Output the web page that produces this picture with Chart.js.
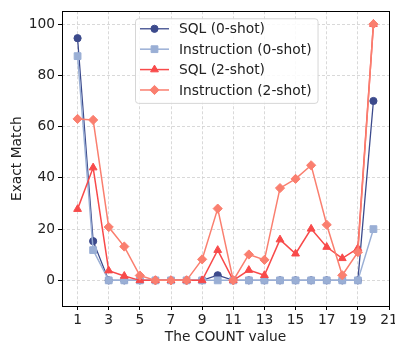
<!DOCTYPE html>
<html>
<head>
<meta charset="utf-8">
<script src="https://cdn.jsdelivr.net/npm/chart.js@4.4.1/dist/chart.umd.min.js"></script>
<style>
    html, body { margin: 0; padding: 0; background: #fff; }
</style>
</head>
<body>
<canvas id="countChart" width="395" height="347"></canvas>
<script>
// Werte
const countValues = [1, 2, 3, 4, 5, 6, 7, 8, 9, 10, 11, 12, 13, 14, 15, 16, 17, 18, 19, 20];
const sqlZeroShot = [94.5, 15.3, 0, 0, 0, 0, 0, 0, 0, 2, 0, 0, 0, 0, 0, 0, 0, 0, 0, 70];
const instructionZeroShot = [87.5, 11.8, 0, 0, 0, 0, 0, 0, 0, 0, 0, 0, 0, 0, 0, 0, 0, 0, 0, 20];
const sqlTwoShot = [27.8, 44, 3.8, 1.7, 0, 0, 0, 0, 0, 11.8, 0, 4, 2, 15.9, 10.4, 20.1, 13, 8.6, 12.5, 100];
const instructionTwoShot = [63, 62.6, 20.8, 13.2, 1.9, 0, 0, 0, 8.2, 28, 0, 10.1, 8, 36, 39.6, 44.9, 21.7, 2, 11, 100];
const seriesNames = ['SQL (0-shot)', 'Instruction (0-shot)', 'SQL (2-shot)', 'Instruction (2-shot)'];
const xTickLabels = [1, 3, 5, 7, 9, 11, 13, 15, 17, 19, 21];
const yTickLabels = [0, 20, 40, 60, 80, 100];

const fontFamily = '"DejaVu Sans", sans-serif';
const fontSize = 13.8;

function toPoints(values) {
    return values.map((v, i) => ({ x: countValues[i], y: v }));
}

function makeSeries(label, values, color, style, radius, width, order) {
    return {
        label: label,
        data: toPoints(values),
        borderColor: color,
        backgroundColor: color,
        borderWidth: width,
        pointStyle: style,
        pointRadius: radius,
        pointHoverRadius: radius,
        pointBorderWidth: 1,
        pointBorderColor: color,
        pointBackgroundColor: color,
        tension: 0,
        order: order
    };
}

// Rahmen (alle vier Achsen) und Legende im Plotbereich
const frameAndLegend = {
    id: 'frameAndLegend',
    afterDraw(chart) {
        const ctx = chart.ctx;
        const area = chart.chartArea;
        ctx.save();
        ctx.strokeStyle = '#000';
        ctx.lineWidth = 1;
        ctx.setLineDash([]);
        ctx.strokeRect(Math.round(area.left) + 0.5, Math.round(area.top) + 0.5,
            Math.round(area.right - area.left), Math.round(area.bottom - area.top));

        // Legende
        ctx.font = fontSize + 'px ' + fontFamily;
        const texts = chart.data.datasets.map(d => d.label);
        const maxText = Math.max(...texts.map(t => ctx.measureText(t).width));
        const x0 = area.left + 73;
        const y0 = area.top + 7;
        const rowH = 20.4;
        const w = 44 + maxText + 6;
        const h = rowH * texts.length + 3;
        ctx.fillStyle = 'rgba(255,255,255,0.85)';
        ctx.strokeStyle = '#d6d6d6';
        ctx.beginPath();
        ctx.roundRect(x0 + 0.5, y0 + 0.5, w, h, 3);
        ctx.fill();
        ctx.stroke();

        chart.data.datasets.forEach((ds, i) => {
            const cy = y0 + 10.5 + i * rowH;
            ctx.strokeStyle = ds.borderColor;
            ctx.lineWidth = ds.borderWidth;
            ctx.beginPath();
            ctx.moveTo(x0 + 5, cy);
            ctx.lineTo(x0 + 34, cy);
            ctx.stroke();
            ctx.fillStyle = ds.borderColor;
            ctx.strokeStyle = ds.borderColor;
            ctx.lineWidth = 1;
            Chart.helpers.drawPoint(ctx, { pointStyle: ds.pointStyle, radius: ds.pointRadius, borderWidth: 1 }, x0 + 19.5, cy);
            ctx.fillStyle = '#222';
            ctx.textAlign = 'left';
            ctx.textBaseline = 'middle';
            ctx.fillText(ds.label, x0 + 44, cy + 1);
        });
        ctx.restore();
    }
};

function gridStyle() {
    return {
        color: '#cfcfcf',
        lineWidth: 0.8,
        drawTicks: true,
        tickLength: 4,
        tickColor: '#000',
        tickWidth: 1
    };
}

const config = {
    type: 'line',
    data: {
        datasets: [
            makeSeries(seriesNames[0], sqlZeroShot, '#3c4a8c', 'circle', 3.6, 1.3, 4),
            makeSeries(seriesNames[1], instructionZeroShot, '#9aafd5', 'rect', 4.8, 1.5, 3),
            makeSeries(seriesNames[2], sqlTwoShot, '#f84a4a', 'triangle', 4.5, 1.5, 2),
            makeSeries(seriesNames[3], instructionTwoShot, '#fa7f6f', 'rectRot', 4.6, 1.5, 1)
        ]
    },
    options: {
        responsive: false,
        animation: false,
        devicePixelRatio: 1,
        layout: { padding: { top: 8, right: 6, left: 0, bottom: 0 } },
        plugins: {
            legend: { display: false },
            tooltip: { enabled: false }
        },
        scales: {
            x: {
                type: 'linear',
                min: 0,
                max: 21,
                afterBuildTicks: scale => { scale.ticks = xTickLabels.map(v => ({ value: v })); },
                afterFit: scale => { scale.height = 41; scale.paddingLeft = 0; scale.paddingRight = 0; },
                border: { display: false, dash: [3, 2] },
                grid: gridStyle(),
                ticks: {
                    color: '#222',
                    font: { family: fontFamily, size: fontSize },
                    padding: 2,
                    maxRotation: 0,
                    autoSkip: false
                },
                title: {
                    display: true,
                    text: 'The COUNT value',
                    color: '#222',
                    font: { family: fontFamily, size: fontSize },
                    padding: { top: 0, bottom: 1 }
                }
            },
            y: {
                type: 'linear',
                min: -10,
                max: 105,
                afterBuildTicks: scale => { scale.ticks = yTickLabels.map(v => ({ value: v })); },
                afterFit: scale => { scale.width = 62; },
                border: { display: false, dash: [3, 2] },
                grid: gridStyle(),
                ticks: {
                    color: '#222',
                    font: { family: fontFamily, size: fontSize },
                    padding: 3
                },
                title: {
                    display: true,
                    text: 'Exact Match',
                    color: '#222',
                    font: { family: fontFamily, size: fontSize },
                    padding: { top: 9, bottom: 0 }
                }
            }
        }
    },
    plugins: [frameAndLegend]
};

const countChart = new Chart(document.getElementById('countChart'), config);
</script>
</body>
</html>
